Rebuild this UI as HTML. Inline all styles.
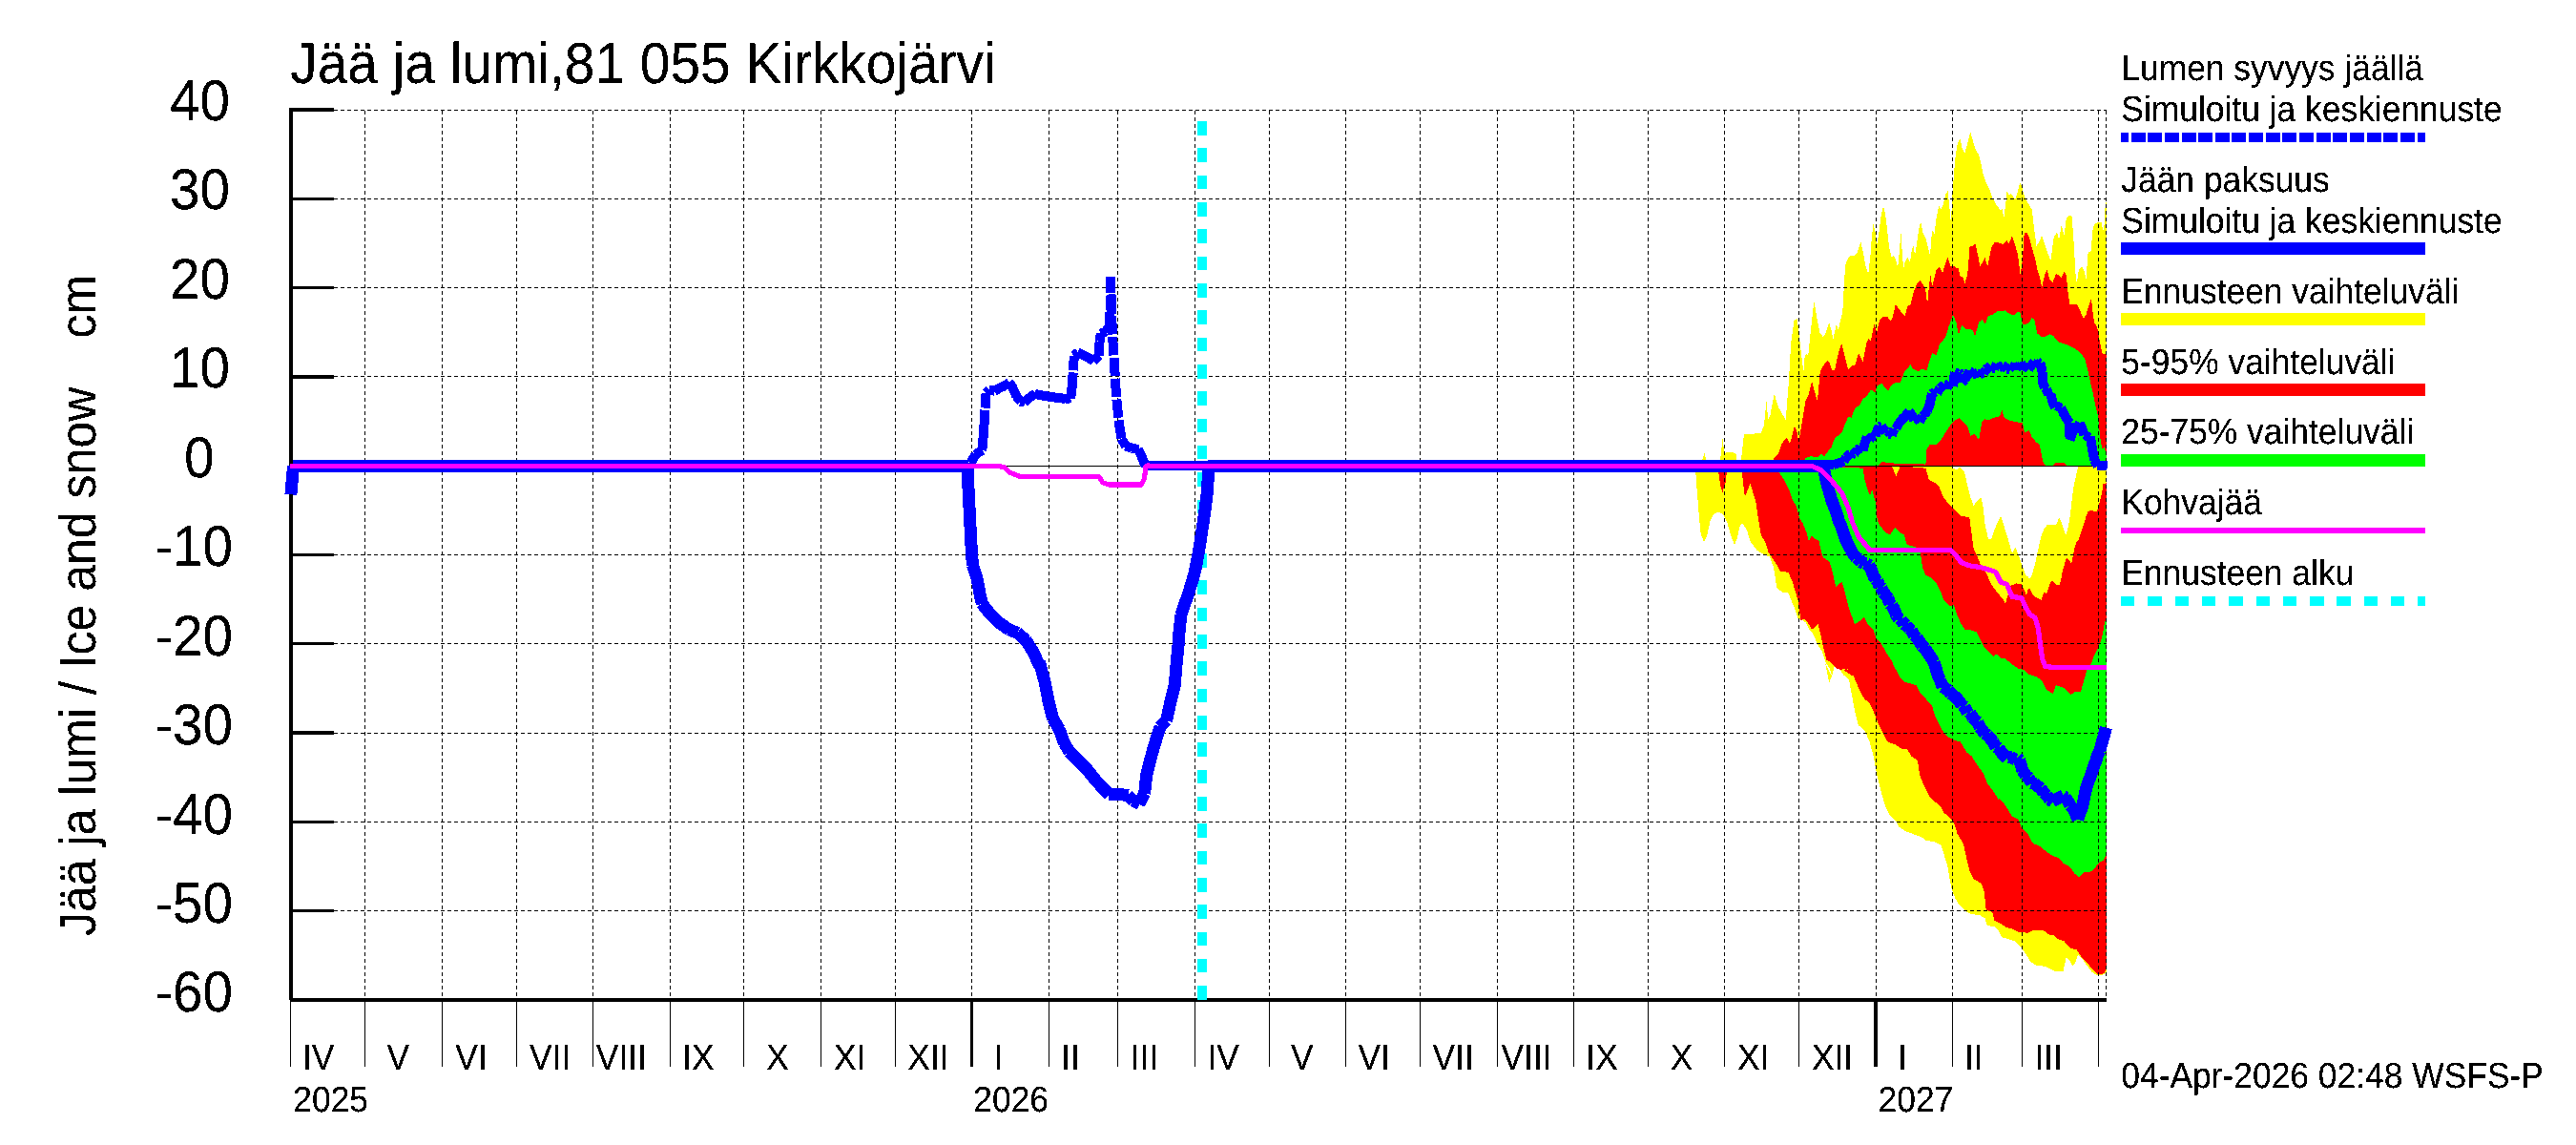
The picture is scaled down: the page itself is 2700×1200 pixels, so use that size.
<!DOCTYPE html>
<html lang="fi"><head><meta charset="utf-8"><title>Jää ja lumi, 81 055 Kirkkojärvi</title>
<style>html,body{margin:0;padding:0;background:#fff}body{width:2700px;height:1200px;overflow:hidden}</style></head>
<body>
<svg width="2700" height="1200" viewBox="0 0 2700 1200" style="display:block;font-family:'Liberation Sans',sans-serif" shape-rendering="crispEdges">
<rect width="2700" height="1200" fill="#fff"/>
<polygon points="1783.3,484.7 1786.6,474.9 1788.7,483.2 1802.9,483.2 1805.5,459.6 1807.3,474.9 1812.8,473.8 1819.3,474.9 1820.4,483.2 1824.8,483.2 1828.0,455.2 1845.5,454.1 1848.8,446.5 1851.6,420.3 1853.1,440.0 1855.3,435.6 1859.7,412.7 1864.1,426.9 1871.7,440.0 1875.0,398.5 1877.2,359.2 1880.4,336.2 1883.7,334.1 1885.9,352.6 1889.2,381.0 1891.4,391.9 1890.9,376.7 1893.1,370.2 1895.3,372.4 1898.6,339.6 1901.4,316.0 1904.0,330.9 1907.3,348.3 1910.6,352.7 1912.8,350.5 1914.9,345.1 1917.1,337.9 1919.3,345.1 1921.5,354.9 1923.7,345.1 1924.8,339.6 1926.9,346.2 1929.1,335.2 1931.3,326.5 1932.8,300.3 1934.1,278.5 1936.8,270.8 1940.0,267.6 1943.3,268.0 1946.6,265.4 1950.3,253.4 1953.1,265.4 1955.3,278.5 1958.2,287.2 1960.3,269.7 1961.9,247.9 1963.6,234.4 1965.6,243.5 1967.3,256.6 1969.5,243.5 1971.7,226.1 1973.9,216.2 1976.1,223.9 1978.3,243.5 1980.4,261.0 1982.6,269.7 1984.8,268.0 1987.0,271.9 1989.2,280.7 1990.9,263.2 1992.4,243.1 1993.5,261.0 1995.1,281.7 1996.8,274.1 1999.7,269.7 2001.8,275.2 2004.0,261.0 2005.5,258.4 2007.1,267.6 2008.8,256.6 2011.0,241.4 2013.2,232.2 2015.4,243.5 2018.6,250.1 2020.8,258.8 2023.0,267.6 2024.5,247.9 2025.9,240.3 2027.4,245.7 2029.6,228.3 2032.2,215.2 2034.4,219.5 2036.8,214.1 2039.4,203.1 2041.6,200.3 2043.3,217.3 2044.8,232.6 2047.0,195.5 2049.2,167.1 2051.4,151.8 2054.2,144.8 2056.9,156.2 2059.5,160.1 2062.3,149.7 2065.2,138.3 2067.8,147.5 2071.0,157.3 2074.3,162.8 2076.5,171.5 2078.7,182.4 2082.0,192.2 2085.2,197.7 2088.5,207.5 2092.9,215.2 2096.2,219.5 2097.0,220.4 2098.7,218.3 2100.3,229.2 2102.4,211.7 2103.5,200.8 2105.7,204.1 2107.9,203.0 2110.1,206.2 2112.3,208.4 2114.9,200.8 2117.1,191.0 2119.3,196.4 2122.1,206.2 2125.4,212.8 2129.7,219.3 2131.9,237.9 2134.5,257.6 2137.4,253.2 2140.2,246.6 2142.8,255.4 2146.1,265.2 2149.4,272.8 2152.7,248.8 2155.9,243.4 2158.1,251.0 2160.7,235.7 2163.6,246.6 2165.8,229.2 2169.0,225.2 2171.7,227.0 2173.4,251.0 2175.6,288.1 2176.7,296.9 2178.9,282.7 2181.7,279.4 2184.3,282.7 2186.5,292.5 2188.7,264.1 2191.4,264.2 2193.4,241.9 2194.7,236.0 2197.3,233.8 2199.9,233.0 2202.5,233.4 2203.8,239.3 2204.9,242.6 2205.8,232.8 2206.5,218.3 2207.5,212.4 2208.0,212.4 2208.0,488.4 1783.3,488.4" fill="#ffff00"/>
<polygon points="1777.0,488.3 2045.7,488.3 2045.7,489.6 2051.1,492.8 2054.4,489.6 2058.8,493.9 2062.1,508.1 2065.3,521.2 2068.6,530.0 2071.9,525.6 2076.2,521.2 2078.4,530.0 2080.6,549.6 2083.9,564.9 2087.2,564.9 2092.6,549.6 2097.0,540.9 2103.5,560.5 2109.0,580.2 2112.3,573.1 2118.8,590.6 2123.2,602.6 2127.6,605.9 2123.3,603.1 2126.6,606.4 2129.2,604.5 2131.8,595.3 2133.8,587.4 2135.7,578.3 2137.7,569.1 2139.7,561.2 2142.3,554.7 2145.5,550.1 2154.1,550.1 2156.0,548.8 2158.3,542.2 2160.0,545.5 2162.6,553.4 2165.2,560.6 2167.2,554.7 2169.1,545.5 2170.4,535.0 2171.7,523.2 2173.7,508.8 2176.3,497.0 2178.3,489.2 2179.0,488.3 2208.0,488.3 2208.0,1019.3 2205.1,1021.4 2198.5,1022.5 2192.0,1018.2 2186.5,1010.5 2181.0,1002.9 2177.8,1000.7 2175.6,1008.3 2172.3,1012.7 2169.0,1006.2 2165.8,1002.9 2162.5,1018.2 2153.8,1018.2 2148.3,1014.9 2142.8,1012.7 2134.1,1011.6 2128.6,1008.3 2123.2,999.6 2118.8,993.1 2112.3,986.5 2105.7,984.3 2098.1,982.1 2094.8,975.6 2090.4,971.2 2082.8,970.1 2080.6,962.5 2075.2,959.2 2066.4,958.1 2059.9,954.8 2053.3,948.3 2049.0,940.7 2045.7,931.9 2043.5,921.0 2041.3,907.9 2038.0,897.0 2034.8,886.1 2029.3,882.8 2018.4,880.6 2014.0,877.3 2005.3,874.1 1996.6,870.8 1990.0,866.4 1987.0,860.3 1980.4,853.8 1976.1,845.0 1971.7,829.7 1967.3,812.3 1964.1,794.8 1959.7,777.3 1954.2,765.3 1947.7,759.9 1944.4,746.8 1941.1,729.3 1937.9,711.8 1932.4,707.5 1926.9,699.8 1923.0,697.6 1920.4,707.5 1917.1,715.8 1914.9,703.1 1912.8,694.4 1920.8,710.0 1917.6,700.2 1913.2,693.6 1909.9,682.7 1905.5,676.2 1900.1,664.1 1895.7,658.7 1892.4,652.1 1887.0,648.9 1885.2,650.0 1882.0,640.2 1877.6,629.3 1874.3,621.6 1867.8,620.5 1862.3,616.2 1859.0,594.3 1854.7,583.4 1849.2,581.2 1841.6,576.9 1835.0,568.1 1830.7,555.0 1826.3,548.5 1823.7,550.7 1820.8,563.8 1818.0,571.4 1814.3,561.6 1809.9,546.3 1805.5,538.6 1800.1,536.5 1795.7,539.7 1792.4,546.3 1789.2,561.6 1785.9,567.7 1782.6,559.4 1780.4,535.4 1778.3,509.2 1777.2,493.9" fill="#ffff00"/>
<polygon points="1857.5,483.2 1858.6,481.4 1864.1,474.9 1867.3,465.1 1872.8,458.5 1876.1,465.1 1880.9,446.5 1883.7,453.1 1885.2,464.0 1888.1,446.5 1892.4,420.3 1895.7,413.8 1899.0,399.6 1902.3,411.6 1904.9,420.3 1907.7,389.7 1911.0,383.2 1915.4,377.7 1918.0,381.0 1920.2,387.6 1923.0,388.6 1926.3,372.3 1930.2,359.2 1933.9,374.5 1937.2,387.6 1941.6,383.2 1944.2,383.2 1948.1,370.1 1952.5,378.8 1956.4,359.2 1958.6,354.8 1960.8,357.0 1964.5,339.5 1967.3,348.3 1970.0,335.2 1973.9,332.0 1978.3,332.0 1981.5,336.3 1983.7,333.1 1986.6,319.5 1989.2,322.1 1992.4,326.5 1996.8,330.9 1999.7,320.0 2002.3,320.0 2004.9,309.0 2008.8,298.1 2012.8,294.2 2015.4,298.1 2018.0,302.5 2020.2,318.9 2021.9,300.3 2023.4,288.3 2025.2,300.3 2026.7,293.8 2029.6,282.8 2032.8,280.2 2036.1,286.1 2039.0,276.3 2041.6,269.7 2044.2,278.5 2047.0,278.5 2050.3,280.7 2052.5,280.7 2054.7,289.4 2057.3,290.5 2059.5,297.0 2062.3,287.2 2064.5,258.8 2067.8,257.7 2070.4,255.5 2073.2,267.6 2075.4,279.6 2078.3,274.1 2080.4,269.7 2083.1,279.6 2085.2,269.7 2087.4,258.8 2090.7,254.0 2094.0,254.0 2098.3,255.5 2099.2,256.5 2103.5,252.1 2105.7,255.4 2109.0,247.3 2112.3,257.6 2114.9,266.3 2117.7,288.1 2119.9,272.8 2121.7,244.5 2124.3,243.4 2127.1,248.8 2129.7,259.7 2133.0,270.7 2135.2,281.6 2138.5,292.5 2140.2,301.2 2142.8,289.2 2145.5,282.7 2148.3,292.5 2151.6,295.8 2154.8,287.0 2158.1,288.1 2160.3,291.4 2163.6,284.8 2165.8,288.1 2167.9,310.0 2169.5,318.7 2176.7,318.7 2180.0,325.2 2183.9,334.0 2186.5,329.6 2189.1,320.9 2192.0,313.2 2194.1,331.8 2195.3,339.3 2197.3,341.3 2199.3,347.9 2200.6,357.0 2202.5,366.2 2203.8,371.4 2208.0,371.2 2208.0,488.4 1857.5,488.4" fill="#ff0000"/>
<polygon points="1801.2,488.4 1809.9,488.4 1809.9,495.0 1808.8,504.8 1805.5,515.7 1803.4,509.2 1801.2,495.0" fill="#ff0000"/>
<polygon points="1825.9,488.4 1983.0,488.3 1987.4,499.3 1991.8,488.3 2018.4,490.7 2021.7,502.7 2028.2,505.9 2032.6,510.3 2036.9,521.2 2041.3,526.7 2046.8,532.1 2052.2,537.6 2055.5,540.9 2064.2,542.0 2066.4,558.3 2068.6,574.7 2071.9,581.8 2076.2,592.8 2081.7,600.4 2087.2,612.4 2092.6,620.0 2099.2,627.7 2101.8,633.1 2104.6,623.3 2105.7,614.6 2113.4,611.3 2118.8,612.4 2120.0,614.9 2122.0,618.9 2123.9,624.1 2125.2,618.9 2127.2,616.3 2129.2,620.2 2131.8,624.8 2135.7,626.7 2139.7,628.7 2141.0,624.1 2142.9,620.2 2144.9,622.1 2146.2,618.9 2148.2,612.3 2150.8,608.4 2153.4,611.0 2156.7,613.6 2158.6,613.0 2160.6,605.8 2161.9,597.9 2163.9,591.4 2165.9,584.2 2169.1,587.4 2171.1,591.4 2173.1,581.5 2174.4,574.3 2176.3,568.4 2179.0,565.2 2180.9,558.6 2182.9,553.4 2184.8,546.8 2186.8,540.3 2188.8,535.7 2191.4,535.0 2195.3,535.7 2197.3,537.0 2199.3,532.4 2201.2,524.5 2203.2,516.7 2204.5,507.5 2208.0,506.2 2208.0,1014.9 2205.1,1020.3 2199.6,1021.4 2195.2,1018.2 2188.7,1010.5 2182.1,1004.0 2176.7,995.2 2170.1,994.1 2163.6,986.5 2157.0,984.3 2152.7,980.0 2148.3,980.0 2142.8,975.6 2131.9,974.5 2125.4,977.8 2115.5,976.7 2109.0,973.4 2103.5,972.3 2097.0,967.9 2090.4,964.7 2088.3,955.9 2081.7,953.8 2079.8,934.5 2076.5,925.8 2068.9,921.4 2064.5,912.7 2061.2,899.6 2057.9,884.3 2051.4,873.4 2048.1,862.5 2043.8,857.0 2037.2,851.6 2033.9,845.0 2028.5,840.7 2021.9,834.1 2016.5,823.2 2012.1,812.3 2009.9,797.0 2003.4,792.6 1999.0,785.0 1993.5,785.0 1987.0,780.6 1978.3,777.3 1973.9,768.6 1968.4,757.7 1964.1,746.8 1959.7,736.9 1954.2,732.6 1948.8,722.8 1943.3,709.7 1937.9,702.0 1930.2,700.9 1943.8,710.0 1937.2,701.3 1930.7,702.4 1924.1,700.2 1919.7,694.7 1914.3,691.4 1911.0,678.3 1908.8,667.4 1905.5,654.3 1899.0,659.8 1894.6,652.1 1891.4,648.9 1887.4,650.0 1885.2,631.4 1882.0,620.5 1878.7,609.6 1874.3,599.8 1865.6,598.7 1862.3,592.1 1857.9,585.6 1853.6,579.0 1850.3,568.1 1845.9,561.6 1842.7,541.9 1840.5,526.6 1837.2,515.7 1834.6,506.6 1831.7,513.5 1828.9,521.2 1827.4,509.2 1825.9,495.0" fill="#ff0000"/>
<polygon points="1891.4,483.2 1892.4,480.3 1897.9,478.2 1905.5,479.3 1908.8,476.0 1912.1,478.2 1919.7,468.3 1923.0,459.6 1930.7,453.1 1933.9,444.3 1937.2,436.7 1940.5,437.8 1944.2,427.9 1949.2,424.7 1952.5,418.1 1956.9,414.8 1961.2,408.3 1965.2,411.6 1967.8,403.9 1972.1,401.7 1976.5,407.2 1979.1,409.4 1983.1,402.8 1987.4,400.7 1991.8,400.7 1996.2,389.7 2000.1,385.4 2002.0,381.5 2005.3,386.9 2010.7,389.1 2014.0,386.9 2019.5,388.0 2022.8,377.1 2025.2,370.2 2029.6,372.4 2032.8,361.4 2036.1,357.1 2039.4,352.7 2042.7,341.8 2047.0,329.8 2050.3,337.4 2052.9,350.5 2056.4,340.7 2060.1,345.1 2064.5,345.1 2067.8,346.2 2070.0,352.7 2074.3,337.4 2077.6,335.2 2080.9,339.6 2084.1,330.9 2088.5,329.8 2092.9,326.5 2099.2,326.3 2101.4,325.2 2105.7,328.5 2110.1,330.7 2114.5,327.4 2117.1,326.3 2119.9,339.4 2123.2,340.1 2126.5,338.3 2129.7,332.9 2132.4,335.1 2135.2,349.3 2140.7,353.6 2143.9,352.5 2148.3,350.3 2152.7,352.5 2157.0,358.0 2162.5,360.2 2166.9,361.3 2173.4,364.5 2180.0,368.9 2185.5,376.7 2188.1,387.2 2190.1,396.3 2193.4,410.7 2196.0,423.8 2198.6,434.3 2199.9,444.8 2201.2,457.9 2202.5,465.8 2203.8,471.0 2205.8,469.0 2208.0,477.6 2208.0,488.4 1891.4,488.4" fill="#00ff00"/>
<polygon points="1968.0,488.3 1972.0,484.0 1985.0,485.5 2000.0,486.0 2017.0,486.5 2018.4,486.7 2019.5,471.0 2022.8,465.5 2028.2,466.6 2033.7,462.3 2039.1,453.5 2044.6,444.8 2049.0,440.4 2053.3,438.3 2056.6,441.5 2062.1,447.0 2065.3,456.8 2069.7,454.6 2074.1,461.2 2077.3,442.6 2080.6,439.3 2083.9,440.4 2088.3,438.3 2092.6,437.2 2095.9,436.1 2098.5,429.5 2100.3,437.2 2105.7,440.4 2110.1,441.5 2115.5,442.6 2119.9,442.6 2122.1,453.5 2126.5,451.4 2129.7,457.9 2134.1,463.4 2137.4,465.5 2139.6,475.4 2141.7,485.2 2143.9,487.6 2151.6,487.6 2154.8,485.0 2162.5,484.5 2165.8,487.6 2170.0,488.3 2170.0,488.4 1968.0,488.4" fill="#ff0000"/>
<polygon points="1864.0,488.3 1952.5,490.6 1954.7,503.7 1957.9,514.6 1960.1,519.0 1962.3,513.5 1965.6,525.5 1967.8,545.2 1971.0,551.7 1976.5,558.3 1980.9,560.4 1986.3,552.8 1991.8,558.3 1995.5,560.0 1998.7,570.9 2007.5,573.1 2012.9,579.7 2015.1,594.9 2018.4,602.6 2024.9,605.9 2030.4,612.4 2034.8,621.1 2036.9,628.8 2043.5,635.3 2047.9,634.2 2051.1,644.1 2055.5,653.9 2059.9,660.4 2065.3,660.4 2071.9,662.6 2075.2,669.2 2079.5,677.9 2086.1,684.5 2089.3,687.7 2092.6,685.5 2097.0,689.9 2101.4,689.9 2107.9,695.4 2115.5,700.8 2121.0,701.9 2125.4,706.3 2135.2,709.6 2140.7,713.9 2145.0,722.7 2151.6,727.0 2154.8,718.3 2162.5,720.5 2170.1,728.1 2175.6,724.8 2181.0,724.8 2184.3,712.8 2187.6,701.9 2192.0,695.4 2195.2,686.6 2199.6,677.9 2202.9,669.2 2206.2,651.7 2208.0,647.3 2208.0,894.8 2205.1,901.4 2199.6,904.6 2196.3,909.0 2192.0,913.4 2184.3,914.5 2178.9,919.9 2174.5,915.5 2169.0,907.9 2162.5,904.6 2158.1,899.2 2151.6,897.0 2145.0,892.6 2138.5,887.2 2130.8,883.9 2125.4,874.1 2118.8,867.5 2115.5,858.8 2109.0,855.5 2101.4,843.5 2094.8,835.9 2095.1,838.5 2089.6,829.7 2083.1,821.0 2078.7,810.1 2072.1,801.4 2066.7,792.6 2061.2,788.3 2054.7,777.3 2049.2,776.2 2042.7,773.0 2037.2,767.5 2032.8,759.9 2028.5,751.1 2025.2,740.2 2019.7,733.7 2013.2,727.1 2008.8,718.4 2002.3,716.2 1996.8,715.1 1991.4,709.7 1986.3,700.2 1982.0,691.4 1977.6,684.9 1972.1,675.1 1966.7,669.6 1963.4,659.8 1957.9,654.3 1953.6,646.7 1949.2,651.0 1943.8,654.3 1940.5,644.5 1937.2,634.7 1933.9,621.6 1930.7,609.6 1924.1,615.0 1920.8,599.7 1917.6,588.8 1911.0,584.5 1908.8,577.9 1906.6,567.0 1902.3,564.8 1899.0,561.5 1895.7,567.0 1893.5,558.3 1889.2,547.3 1886.3,544.1 1883.1,531.0 1878.7,523.4 1875.4,513.5 1870.0,502.6 1864.5,495.0" fill="#00ff00"/>
<g stroke="#000" stroke-width="1" stroke-dasharray="4.4 2.6" fill="none">
<line x1="350" y1="115.5" x2="2207.5" y2="115.5"/>
<line x1="350" y1="208.5" x2="2207.5" y2="208.5"/>
<line x1="350" y1="301.5" x2="2207.5" y2="301.5"/>
<line x1="350" y1="394.5" x2="2207.5" y2="394.5"/>
<line x1="350" y1="488.5" x2="2207.5" y2="488.5"/>
<line x1="350" y1="581.5" x2="2207.5" y2="581.5"/>
<line x1="350" y1="674.5" x2="2207.5" y2="674.5"/>
<line x1="350" y1="768.5" x2="2207.5" y2="768.5"/>
<line x1="350" y1="861.5" x2="2207.5" y2="861.5"/>
<line x1="350" y1="954.5" x2="2207.5" y2="954.5"/>
<line x1="382.5" y1="116.0" x2="382.5" y2="1047.5" stroke-dasharray="4 3"/>
<line x1="463.5" y1="116.0" x2="463.5" y2="1047.5" stroke-dasharray="4 3"/>
<line x1="541.5" y1="116.0" x2="541.5" y2="1047.5" stroke-dasharray="4 3"/>
<line x1="621.5" y1="116.0" x2="621.5" y2="1047.5" stroke-dasharray="4 3"/>
<line x1="702.5" y1="116.0" x2="702.5" y2="1047.5" stroke-dasharray="4 3"/>
<line x1="779.5" y1="116.0" x2="779.5" y2="1047.5" stroke-dasharray="4 3"/>
<line x1="860.5" y1="116.0" x2="860.5" y2="1047.5" stroke-dasharray="4 3"/>
<line x1="938.5" y1="116.0" x2="938.5" y2="1047.5" stroke-dasharray="4 3"/>
<line x1="1018.5" y1="116.0" x2="1018.5" y2="1047.5" stroke-dasharray="4 3"/>
<line x1="1099.5" y1="116.0" x2="1099.5" y2="1047.5" stroke-dasharray="4 3"/>
<line x1="1171.5" y1="116.0" x2="1171.5" y2="1047.5" stroke-dasharray="4 3"/>
<line x1="1252.5" y1="116.0" x2="1252.5" y2="1047.5" stroke-dasharray="4 3"/>
<line x1="1330.5" y1="116.0" x2="1330.5" y2="1047.5" stroke-dasharray="4 3"/>
<line x1="1410.5" y1="116.0" x2="1410.5" y2="1047.5" stroke-dasharray="4 3"/>
<line x1="1488.5" y1="116.0" x2="1488.5" y2="1047.5" stroke-dasharray="4 3"/>
<line x1="1569.5" y1="116.0" x2="1569.5" y2="1047.5" stroke-dasharray="4 3"/>
<line x1="1649.5" y1="116.0" x2="1649.5" y2="1047.5" stroke-dasharray="4 3"/>
<line x1="1727.5" y1="116.0" x2="1727.5" y2="1047.5" stroke-dasharray="4 3"/>
<line x1="1807.5" y1="116.0" x2="1807.5" y2="1047.5" stroke-dasharray="4 3"/>
<line x1="1885.5" y1="116.0" x2="1885.5" y2="1047.5" stroke-dasharray="4 3"/>
<line x1="1966.5" y1="116.0" x2="1966.5" y2="1047.5" stroke-dasharray="4 3"/>
<line x1="2046.5" y1="116.0" x2="2046.5" y2="1047.5" stroke-dasharray="4 3"/>
<line x1="2119.5" y1="116.0" x2="2119.5" y2="1047.5" stroke-dasharray="4 3"/>
<line x1="2199.5" y1="116.0" x2="2199.5" y2="1047.5" stroke-dasharray="4 3"/>
<line x1="2207.5" y1="116.0" x2="2207.5" y2="1047.5" stroke-dasharray="4 3"/>
</g>
<line x1="305" y1="488.5" x2="2207.5" y2="488.5" stroke="#000" stroke-width="1.3"/>
<rect x="303" y="113" width="4" height="935" fill="#000"/>
<rect x="304" y="1046" width="1904" height="4" fill="#000"/>
<rect x="305" y="113" width="45" height="4" fill="#000"/>
<rect x="305" y="207" width="45" height="3" fill="#000"/>
<rect x="305" y="300" width="45" height="3" fill="#000"/>
<rect x="305" y="393" width="45" height="4" fill="#000"/>
<rect x="305" y="487" width="45" height="3" fill="#000"/>
<rect x="305" y="580" width="45" height="3" fill="#000"/>
<rect x="305" y="673" width="45" height="3" fill="#000"/>
<rect x="305" y="766" width="45" height="4" fill="#000"/>
<rect x="305" y="860" width="45" height="3" fill="#000"/>
<rect x="305" y="953" width="45" height="3" fill="#000"/>
<rect x="304" y="1048" width="1" height="70" fill="#000"/>
<rect x="382" y="1048" width="1" height="70" fill="#000"/>
<rect x="463" y="1048" width="1" height="70" fill="#000"/>
<rect x="541" y="1048" width="1" height="70" fill="#000"/>
<rect x="621" y="1048" width="1" height="70" fill="#000"/>
<rect x="702" y="1048" width="1" height="70" fill="#000"/>
<rect x="779" y="1048" width="1" height="70" fill="#000"/>
<rect x="860" y="1048" width="1" height="70" fill="#000"/>
<rect x="938" y="1048" width="1" height="70" fill="#000"/>
<rect x="1017" y="1048" width="3" height="70" fill="#000"/>
<rect x="1099" y="1048" width="1" height="70" fill="#000"/>
<rect x="1171" y="1048" width="1" height="70" fill="#000"/>
<rect x="1252" y="1048" width="1" height="70" fill="#000"/>
<rect x="1330" y="1048" width="1" height="70" fill="#000"/>
<rect x="1410" y="1048" width="1" height="70" fill="#000"/>
<rect x="1488" y="1048" width="1" height="70" fill="#000"/>
<rect x="1569" y="1048" width="1" height="70" fill="#000"/>
<rect x="1649" y="1048" width="1" height="70" fill="#000"/>
<rect x="1727" y="1048" width="1" height="70" fill="#000"/>
<rect x="1807" y="1048" width="1" height="70" fill="#000"/>
<rect x="1885" y="1048" width="1" height="70" fill="#000"/>
<rect x="1964" y="1048" width="4" height="70" fill="#000"/>
<rect x="2046" y="1048" width="1" height="70" fill="#000"/>
<rect x="2119" y="1048" width="1" height="70" fill="#000"/>
<rect x="2199" y="1048" width="1" height="70" fill="#000"/>
<line x1="1260" y1="127.1" x2="1260" y2="1048" stroke="#00ffff" stroke-width="10" stroke-dasharray="14.6 13.716"/>
<path d="M1017.5 488.7L1017.3 484.7M1017.1 485.4L1020.2 480.4M1019.8 481.0L1022.9 476.0M1022.5 476.5L1025.2 474.7M1024.6 475.1L1027.4 473.2M1026.8 473.6L1029.6 471.8M1029.3 472.3L1030.4 459.6M1030.4 460.3L1031.5 445.0M1031.5 445.0L1032.4 429.7M1032.6 427.6L1033.6 412.2M1033.4 412.2L1037.2 408.4M1036.6 408.6L1040.0 409.3M1039.3 409.1L1042.7 409.8M1042.1 409.9L1045.4 407.9M1044.8 408.3L1048.2 406.3M1047.5 406.6L1050.9 405.2M1050.3 405.5L1053.6 404.1M1053.0 404.5L1055.8 402.4M1055.2 402.9L1058.0 400.8M1057.5 400.7L1061.2 405.7M1060.8 405.1L1063.3 410.6M1063.0 410.0L1065.5 415.5M1065.1 414.9L1067.7 418.2M1067.3 417.7L1069.9 420.9M1069.4 420.6L1072.2 421.3M1071.5 421.1L1074.4 421.8M1073.8 422.0L1077.0 418.8M1076.5 419.3L1079.8 416.0M1079.2 416.5L1082.5 414.5M1081.9 414.8L1085.3 412.8M1084.6 412.9L1087.9 413.6M1087.2 413.5L1090.4 414.1M1089.7 414.0L1093.0 414.6M1092.3 414.5L1095.7 415.0M1095.0 414.9L1098.4 415.5M1097.7 415.4L1101.2 415.9M1100.5 415.8L1103.9 416.3M1103.2 416.2L1106.5 416.6M1105.8 416.6L1109.1 416.9M1108.4 416.9L1111.7 417.2M1111.0 417.2L1114.4 417.6M1113.7 417.5L1117.0 417.9M1116.3 417.8L1119.7 417.6M1119.0 417.6L1122.4 417.4M1122.1 417.7L1123.7 405.0M1123.6 405.7L1124.7 390.4M1124.9 388.3L1125.8 372.9M1125.5 372.8L1128.0 370.8M1127.5 371.2L1130.0 369.1M1129.4 369.2L1133.0 371.0M1132.3 370.6L1135.9 372.4M1135.2 372.1L1138.8 373.9M1138.2 373.5L1141.3 375.3M1140.7 375.0L1143.9 376.8M1143.3 376.4L1146.4 378.3M1145.9 378.3L1149.1 375.1M1148.6 375.6L1151.8 372.4M1151.5 373.0L1152.6 357.7M1152.6 357.7L1153.8 349.3M1153.4 349.8L1156.8 348.5M1156.2 348.7L1159.5 347.4M1159.0 347.8L1162.7 341.8M1162.5 342.4L1163.4 327.1M1163.6 324.9L1163.9 309.6M1163.9 306.9L1164.0 302.4M1164.0 303.1L1164.0 290.4M1164.0 290.4L1164.4 305.7M1164.5 308.4L1164.7 314.0M1164.7 313.3L1165.1 328.7M1165.2 331.3L1165.3 335.9M1165.3 335.2L1166.1 350.5M1166.2 353.1L1166.4 357.7M1166.4 357.0L1167.5 372.3M1167.7 374.9L1168.0 379.5M1167.9 378.8L1168.7 394.2M1168.8 396.8L1169.1 401.4M1169.0 400.7L1170.2 416.0M1170.4 418.6L1170.8 423.2M1170.8 422.5L1172.3 437.8M1172.5 440.4L1173.0 445.0M1172.9 444.3L1175.5 459.5M1175.4 459.7L1177.9 464.1M1177.6 463.5L1180.1 467.9M1179.6 467.5L1182.5 468.4M1181.8 468.2L1184.7 469.2M1184.0 468.9L1186.8 469.9M1186.2 469.7L1189.0 470.2M1188.3 470.1L1191.2 470.6M1190.5 470.5L1193.4 470.9M1192.9 470.6L1196.5 477.7M1196.2 477.1L1199.7 486.5M1199.5 485.8L1200.6 488.7M1200.2 488.4L1203.4 488.4M1202.7 488.4L1206.0 488.4M1205.3 488.4L1208.6 488.4M1207.9 488.4L1211.2 488.4M1210.5 488.4L1213.8 488.4M1213.1 488.4L1216.4 488.4M1215.7 488.4L1219.0 488.4M1218.3 488.4L1221.6 488.4M1220.9 488.4L1224.2 488.4M1223.5 488.4L1226.8 488.4M1226.1 488.4L1229.4 488.4M1228.7 488.4L1232.0 488.4M1231.3 488.4L1234.6 488.4M1233.9 488.4L1237.2 488.4M1236.5 488.4L1239.8 488.4M1239.1 488.4L1242.4 488.4M1241.7 488.4L1245.0 488.4M1244.3 488.4L1247.6 488.4M1246.9 488.4L1250.2 488.4M1249.5 488.4L1252.8 488.4M1252.1 488.4L1255.3 488.4M1254.7 488.4L1257.9 488.4M1257.2 488.4L1260.5 488.4M1259.8 488.4L1263.1 488.4M1262.4 488.4L1265.7 488.4M1265.0 488.4L1268.3 488.4M1267.6 488.4L1270.9 488.4M1270.2 488.4L1273.5 488.4M1272.8 488.4L1276.1 488.4M1275.4 488.4L1278.7 488.4M1278.0 488.4L1281.3 488.4M1280.6 488.4L1283.9 488.4M1283.2 488.4L1286.5 488.4M1285.8 488.4L1289.1 488.4M1288.4 488.4L1291.7 488.4M1291.0 488.4L1294.3 488.4M1293.6 488.4L1296.9 488.4M1296.2 488.4L1299.5 488.4M1298.8 488.4L1302.1 488.4M1301.4 488.4L1304.7 488.4M1304.0 488.4L1307.3 488.4M1306.6 488.4L1309.8 488.4M1309.2 488.4L1312.4 488.4M1311.7 488.4L1315.0 488.4M1314.3 488.4L1317.6 488.4M1316.9 488.4L1320.2 488.4M1319.5 488.4L1322.8 488.4M1322.1 488.4L1325.4 488.4M1324.7 488.4L1328.0 488.4M1327.3 488.4L1330.6 488.4M1329.9 488.4L1333.2 488.4M1332.5 488.4L1335.8 488.4M1335.1 488.4L1338.4 488.4M1337.7 488.4L1341.0 488.4M1340.3 488.4L1343.6 488.4M1342.9 488.4L1346.2 488.4M1345.5 488.4L1348.8 488.4M1348.1 488.4L1351.4 488.4M1350.7 488.4L1354.0 488.4M1353.3 488.4L1356.6 488.4M1355.9 488.4L1359.2 488.4M1358.5 488.4L1361.8 488.4M1361.1 488.4L1364.3 488.4M1363.7 488.4L1366.9 488.4M1366.2 488.4L1369.5 488.4M1368.8 488.4L1372.1 488.4M1371.4 488.4L1374.7 488.4M1374.0 488.4L1377.3 488.4M1376.6 488.4L1379.9 488.4M1379.2 488.4L1382.5 488.4M1381.8 488.4L1385.1 488.4M1384.4 488.4L1387.7 488.4M1387.0 488.4L1390.3 488.4M1389.6 488.4L1392.9 488.4M1392.2 488.4L1395.5 488.4M1394.8 488.4L1398.1 488.4M1397.4 488.4L1400.7 488.4M1400.0 488.4L1403.3 488.4M1402.6 488.4L1405.9 488.4M1405.2 488.4L1408.5 488.4M1407.8 488.4L1411.1 488.4M1410.4 488.4L1413.7 488.4M1413.0 488.4L1416.3 488.4M1415.6 488.4L1418.8 488.4M1418.2 488.4L1421.4 488.4M1420.7 488.4L1424.0 488.4M1423.3 488.4L1426.6 488.4M1425.9 488.4L1429.2 488.4M1428.5 488.4L1431.8 488.4M1431.1 488.4L1434.4 488.4M1433.7 488.4L1437.0 488.4M1436.3 488.4L1439.6 488.4M1438.9 488.4L1442.2 488.4M1441.5 488.4L1444.8 488.4M1444.1 488.4L1447.4 488.4M1446.7 488.4L1450.0 488.4M1449.3 488.4L1452.6 488.4M1451.9 488.4L1455.2 488.4M1454.5 488.4L1457.8 488.4M1457.1 488.4L1460.4 488.4M1459.7 488.4L1463.0 488.4M1462.3 488.4L1465.6 488.4M1464.9 488.4L1468.2 488.4M1467.5 488.4L1470.8 488.4M1470.1 488.4L1473.3 488.4M1472.7 488.4L1475.9 488.4M1475.2 488.4L1478.5 488.4M1477.8 488.4L1481.1 488.4M1480.4 488.4L1483.7 488.4M1483.0 488.4L1486.3 488.4M1485.6 488.4L1488.9 488.4M1488.2 488.4L1491.5 488.4M1490.8 488.4L1494.1 488.4M1493.4 488.4L1496.7 488.4M1496.0 488.4L1499.3 488.4M1498.6 488.4L1501.9 488.4M1501.2 488.4L1504.5 488.4M1503.8 488.4L1507.1 488.4M1506.4 488.4L1509.7 488.4M1509.0 488.4L1512.3 488.4M1511.6 488.4L1514.9 488.4M1514.2 488.4L1517.5 488.4M1516.8 488.4L1520.1 488.4M1519.4 488.4L1522.7 488.4M1522.0 488.4L1525.3 488.4M1524.6 488.4L1527.8 488.4M1527.2 488.4L1530.4 488.4M1529.7 488.4L1533.0 488.4M1532.3 488.4L1535.6 488.4M1534.9 488.4L1538.2 488.4M1537.5 488.4L1540.8 488.4M1540.1 488.4L1543.4 488.4M1542.7 488.4L1546.0 488.4M1545.3 488.4L1548.6 488.4M1547.9 488.4L1551.2 488.4M1550.5 488.4L1553.8 488.4M1553.1 488.4L1556.4 488.4M1555.7 488.4L1559.0 488.4M1558.3 488.4L1561.6 488.4M1560.9 488.4L1564.2 488.4M1563.5 488.4L1566.8 488.4M1566.1 488.4L1569.4 488.4M1568.7 488.4L1572.0 488.4M1571.3 488.4L1574.6 488.4M1573.9 488.4L1577.2 488.4M1576.5 488.4L1579.8 488.4M1579.1 488.4L1582.3 488.4M1581.7 488.4L1584.9 488.4M1584.2 488.4L1587.5 488.4M1586.8 488.4L1590.1 488.4M1589.4 488.4L1592.7 488.4M1592.0 488.4L1595.3 488.4M1594.6 488.4L1597.9 488.4M1597.2 488.4L1600.5 488.4M1599.8 488.4L1603.1 488.4M1602.4 488.4L1605.7 488.4M1605.0 488.4L1608.3 488.4M1607.6 488.4L1610.9 488.4M1610.2 488.4L1613.5 488.4M1612.8 488.4L1616.1 488.4M1615.4 488.4L1618.7 488.4M1618.0 488.4L1621.3 488.4M1620.6 488.4L1623.9 488.4M1623.2 488.4L1626.5 488.4M1625.8 488.4L1629.1 488.4M1628.4 488.4L1631.7 488.4M1631.0 488.4L1634.3 488.4M1633.6 488.4L1636.8 488.4M1636.2 488.4L1639.4 488.4M1638.7 488.4L1642.0 488.4M1641.3 488.4L1644.6 488.4M1643.9 488.4L1647.2 488.4M1646.5 488.4L1649.8 488.4M1649.1 488.4L1652.4 488.4M1651.7 488.4L1655.0 488.4M1654.3 488.4L1657.6 488.4M1656.9 488.4L1660.2 488.4M1659.5 488.4L1662.8 488.4M1662.1 488.4L1665.4 488.4M1664.7 488.4L1668.0 488.4M1667.3 488.4L1670.6 488.4M1669.9 488.4L1673.2 488.4M1672.5 488.4L1675.8 488.4M1675.1 488.4L1678.4 488.4M1677.7 488.4L1681.0 488.4M1680.3 488.4L1683.6 488.4M1682.9 488.4L1686.2 488.4M1685.5 488.4L1688.8 488.4M1688.1 488.4L1691.3 488.4M1690.7 488.4L1693.9 488.4M1693.2 488.4L1696.5 488.4M1695.8 488.4L1699.1 488.4M1698.4 488.4L1701.7 488.4M1701.0 488.4L1704.3 488.4M1703.6 488.4L1706.9 488.4M1706.2 488.4L1709.5 488.4M1708.8 488.4L1712.1 488.4M1711.4 488.4L1714.7 488.4M1714.0 488.4L1717.3 488.4M1716.6 488.4L1719.9 488.4M1719.2 488.4L1722.5 488.4M1721.8 488.4L1725.1 488.4M1724.4 488.4L1727.7 488.4M1727.0 488.4L1730.3 488.4M1729.6 488.4L1732.9 488.4M1732.2 488.4L1735.5 488.4M1734.8 488.4L1738.1 488.4M1737.4 488.4L1740.7 488.4M1740.0 488.4L1743.3 488.4M1742.6 488.4L1745.8 488.4M1745.2 488.4L1748.4 488.4M1747.7 488.4L1751.0 488.4M1750.3 488.4L1753.6 488.4M1752.9 488.4L1756.2 488.4M1755.5 488.4L1758.8 488.4M1758.1 488.4L1761.4 488.4M1760.7 488.4L1764.0 488.4M1763.3 488.4L1766.6 488.4M1765.9 488.4L1769.2 488.4M1768.5 488.4L1771.8 488.4M1771.1 488.4L1774.4 488.4M1773.7 488.4L1777.0 488.4M1776.3 488.4L1779.6 488.4M1778.9 488.4L1782.2 488.4M1781.5 488.4L1784.8 488.4M1784.1 488.4L1787.4 488.4M1786.7 488.4L1790.0 488.4M1789.3 488.4L1792.6 488.4M1791.9 488.4L1795.2 488.4M1794.5 488.4L1797.8 488.4M1797.1 488.4L1800.3 488.4M1799.7 488.4L1802.9 488.4M1802.2 488.4L1805.5 488.4M1804.8 488.4L1808.1 488.4M1807.4 488.4L1810.7 488.4M1810.0 488.4L1813.3 488.4M1812.6 488.4L1815.9 488.4M1815.2 488.4L1818.5 488.4M1817.8 488.4L1821.1 488.4M1820.4 488.4L1823.7 488.4M1823.0 488.4L1826.3 488.4M1825.6 488.4L1828.9 488.4M1828.2 488.4L1831.5 488.4M1830.8 488.4L1834.1 488.4M1833.4 488.4L1836.7 488.4M1836.0 488.4L1839.3 488.4M1838.6 488.4L1841.9 488.4M1841.2 488.4L1844.5 488.4M1843.8 488.4L1847.1 488.4M1846.4 488.4L1849.7 488.4M1849.0 488.4L1852.3 488.4M1851.6 488.4L1854.8 488.4M1854.2 488.4L1857.4 488.4M1856.7 488.4L1860.0 488.4M1859.3 488.4L1862.6 488.4M1861.9 488.4L1865.2 488.4M1864.5 488.4L1867.8 488.4M1867.1 488.4L1870.4 488.4M1869.7 488.4L1873.0 488.4M1872.3 488.4L1875.6 488.4M1874.9 488.4L1878.2 488.4M1877.5 488.4L1880.8 488.4M1880.1 488.4L1883.4 488.4M1882.7 488.4L1886.0 488.4M1885.3 488.4L1888.6 488.4M1887.9 488.4L1891.2 488.4M1890.5 488.4L1893.8 488.4M1893.1 488.4L1896.4 488.4M1895.7 488.4L1899.0 488.4M1898.3 488.4L1901.6 488.4M1900.9 488.4L1904.2 488.4M1903.5 488.4L1906.8 488.4M1906.1 488.4L1909.3 488.4" fill="none" stroke="#0000ff" stroke-width="10"/>
<path d="M1910.7 486.9L1914.1 486.9M1913.4 486.9L1916.8 486.9M1916.1 486.9L1919.5 486.9M1918.8 486.9L1922.3 486.9M1921.6 487.0L1925.0 486.0M1924.3 486.2L1927.7 485.2M1927.0 485.4L1930.4 484.3M1929.8 484.5L1933.2 483.5M1932.7 483.9L1935.2 478.9M1934.8 479.4L1937.5 477.0M1936.9 477.5L1939.7 475.6M1939.0 475.7L1941.9 476.1M1941.2 476.2L1944.1 475.3M1943.5 475.7L1946.9 471.2M1946.4 471.7L1949.9 469.7M1949.3 469.6L1952.8 472.2M1952.4 472.3L1954.8 463.7M1954.5 464.3L1957.0 458.1M1956.6 458.2L1960.1 460.5M1959.6 460.6L1962.9 456.3M1962.3 456.5L1965.9 456.7M1965.5 457.0L1967.9 450.4M1967.6 451.1L1970.1 446.8M1969.6 447.2L1972.5 446.3M1972.0 446.1L1974.5 450.3M1974.1 449.7L1976.7 452.8M1976.2 452.5L1979.0 452.4M1978.5 452.2L1981.1 455.1M1980.6 454.7L1983.4 456.2M1982.9 456.3L1985.4 449.4M1984.9 449.8L1987.8 449.0M1987.3 449.4L1989.8 444.4M1989.4 445.0L1992.7 440.6M1992.3 441.2L1995.6 436.9M1995.1 437.0L1998.7 438.4M1998.7 438.3L1995.1 438.1M1995.2 438.4L1998.4 434.6M1998.0 435.1L2001.1 430.9M2000.7 430.9L2003.9 435.1M2003.5 434.5L2006.5 440.4M2006.1 440.2L2009.4 438.7M2008.9 438.6L2012.1 442.0M2011.7 442.1L2014.7 436.1M2014.3 436.6L2017.6 434.5M2017.1 435.0L2020.2 430.4M2019.9 431.0L2022.9 423.1M2022.7 423.7L2025.0 412.3M2024.6 412.8L2028.0 410.6M2027.3 410.7L2030.7 412.0M2030.2 412.2L2033.3 406.6M2032.8 407.1L2036.1 404.8M2035.6 405.2L2038.3 402.9M2037.7 403.1L2040.6 403.8M2039.9 403.8L2042.7 402.7M2042.1 402.8L2045.1 403.3M2044.5 403.0L2047.5 405.0M2047.2 405.1L2048.9 389.9M2048.7 389.3L2051.4 391.5M2050.8 391.4L2053.7 390.6M2053.0 390.5L2055.8 392.3M2055.5 391.8L2056.6 400.9M2056.3 400.8L2059.6 397.6M2059.1 398.1L2062.2 392.9M2061.9 393.5L2064.4 389.0M2063.9 389.1L2066.7 390.9M2066.1 390.6L2068.9 391.7M2068.3 391.5L2071.1 391.7M2070.5 391.8L2073.3 390.4M2072.7 390.3L2075.4 392.5M2074.8 392.4L2077.6 391.0M2077.0 391.1L2079.9 391.1M2079.3 391.4L2081.9 387.0M2081.4 387.5L2084.1 385.0M2083.6 385.5L2086.3 383.4M2085.9 383.3L2088.5 386.6M2087.9 386.3L2090.8 386.4M2090.3 386.7L2092.8 381.5M2092.4 381.6L2095.0 385.7M2094.5 385.5L2097.3 383.8M2096.7 384.1L2099.5 383.1M2098.9 383.1L2101.7 384.6M2101.1 384.1L2103.8 387.3M2103.2 387.0L2106.1 387.1M2105.6 387.4L2108.1 382.8M2107.7 382.9L2110.3 385.5M2109.9 385.5L2112.5 382.1M2112.0 382.1L2114.7 385.3M2114.2 385.2L2116.9 382.7M2116.3 382.7L2119.1 384.4M2118.5 384.4L2121.3 383.5M2120.7 383.7L2124.1 383.1M2123.5 382.9L2126.7 387.2M2126.3 387.3L2129.4 382.0M2128.9 382.5L2132.2 379.4M2131.7 379.4L2134.3 382.3M2133.9 382.3L2136.5 379.5M2136.0 379.6L2138.8 380.7M2138.4 380.2L2140.7 390.2M2140.7 389.5L2140.7 399.8M2140.5 399.1L2142.9 406.5M2142.6 406.0L2145.3 408.1M2144.9 407.5L2147.3 414.0M2146.9 413.7L2149.7 413.4M2149.3 413.1L2151.7 422.1M2151.4 421.4L2153.9 427.2M2153.5 427.1L2156.2 425.1M2155.6 425.2L2158.4 426.6M2157.8 426.3L2160.6 427.6M2160.2 427.1L2162.6 432.7M2162.3 432.0L2164.8 436.8M2164.5 436.2L2167.1 439.9M2166.7 439.3L2169.2 443.4M2169.0 442.8L2169.4 458.1M2169.5 460.8L2169.5 461.3M2169.4 461.3L2172.1 453.8M2171.8 454.4L2174.6 448.6M2174.2 449.0L2177.6 447.8M2177.0 448.3L2180.1 443.4M2179.8 443.3L2182.3 448.6M2182.0 448.0L2184.4 456.0M2184.0 455.6L2186.9 455.8M2186.3 455.6L2188.9 458.4M2188.3 458.1L2191.2 457.9M2190.8 457.6L2193.1 471.0M2193.0 470.3L2195.3 482.6M2195.1 482.0L2198.7 488.3M2198.2 488.0L2201.3 488.2M2200.6 488.1L2203.8 488.3M2203.1 488.2L2206.2 488.4M2205.5 488.3L2208.7 488.5" fill="none" stroke="#0000ff" stroke-width="10"/>
<path d="M304.9 518.3L307.5 488.2M307.1 488.5L310.4 488.5M309.7 488.5L313.0 488.5M312.3 488.5L315.6 488.5M314.9 488.5L318.2 488.5M317.5 488.5L320.8 488.5M320.1 488.5L323.4 488.5M322.7 488.5L326.0 488.5M325.3 488.5L328.6 488.5M327.9 488.5L331.2 488.5M330.5 488.5L333.8 488.5M333.1 488.5L336.4 488.5M335.7 488.5L339.0 488.5M338.3 488.5L341.6 488.5M340.9 488.5L344.2 488.5M343.5 488.5L346.8 488.5M346.1 488.5L349.4 488.5M348.7 488.5L352.0 488.5M351.3 488.5L354.6 488.5M353.9 488.5L357.2 488.5M356.5 488.5L359.8 488.5M359.1 488.5L362.4 488.5M361.7 488.5L365.0 488.5M364.3 488.5L367.6 488.5M366.9 488.5L370.2 488.5M369.5 488.5L372.8 488.5M372.1 488.5L375.4 488.5M374.7 488.5L378.0 488.5M377.3 488.5L380.6 488.5M379.9 488.5L383.2 488.5M382.5 488.5L385.8 488.5M385.1 488.5L388.4 488.5M387.7 488.5L391.0 488.5M390.3 488.5L393.6 488.5M392.9 488.5L396.2 488.5M395.5 488.5L398.8 488.5M398.1 488.5L401.4 488.5M400.7 488.5L404.0 488.5M403.3 488.5L406.6 488.5M405.9 488.5L409.2 488.5M408.5 488.5L411.8 488.5M411.1 488.5L414.4 488.5M413.7 488.5L417.0 488.5M416.3 488.5L419.6 488.5M418.9 488.5L422.2 488.5M421.5 488.5L424.8 488.5M424.1 488.5L427.4 488.5M426.7 488.5L430.0 488.5M429.3 488.5L432.6 488.5M431.9 488.5L435.2 488.5M434.5 488.5L437.8 488.5M437.1 488.5L440.4 488.5M439.7 488.5L443.0 488.5M442.3 488.5L445.6 488.5M444.9 488.5L448.2 488.5M447.5 488.5L450.8 488.5M450.1 488.5L453.4 488.5M452.7 488.5L456.0 488.5M455.3 488.5L458.6 488.5M457.9 488.5L461.2 488.5M460.5 488.5L463.8 488.5M463.1 488.5L466.4 488.5M465.7 488.5L469.0 488.5M468.3 488.5L471.6 488.5M470.9 488.5L474.2 488.5M473.5 488.5L476.8 488.5M476.1 488.5L479.4 488.5M478.7 488.5L482.0 488.5M481.3 488.5L484.6 488.5M483.9 488.5L487.2 488.5M486.5 488.5L489.8 488.5M489.1 488.5L492.4 488.5M491.7 488.5L495.0 488.5M494.3 488.5L497.6 488.5M496.9 488.5L500.2 488.5M499.5 488.5L502.8 488.5M502.1 488.5L505.4 488.5M504.7 488.5L508.0 488.5M507.3 488.5L510.6 488.5M509.9 488.5L513.2 488.5M512.5 488.5L515.8 488.5M515.1 488.5L518.4 488.5M517.7 488.5L521.0 488.5M520.3 488.5L523.6 488.5M522.9 488.5L526.2 488.5M525.5 488.5L528.8 488.5M528.1 488.5L531.4 488.5M530.7 488.5L534.0 488.5M533.3 488.5L536.6 488.5M535.9 488.5L539.2 488.5M538.5 488.5L541.8 488.5M541.1 488.5L544.4 488.5M543.7 488.5L547.0 488.5M546.3 488.5L549.6 488.5M548.9 488.5L552.2 488.5M551.5 488.5L554.8 488.5M554.1 488.5L557.4 488.5M556.7 488.5L560.0 488.5M559.3 488.5L562.6 488.5M561.9 488.5L565.2 488.5M564.5 488.5L567.8 488.5M567.1 488.5L570.4 488.5M569.7 488.5L573.0 488.5M572.3 488.5L575.6 488.5M574.9 488.5L578.2 488.5M577.5 488.5L580.8 488.5M580.1 488.5L583.4 488.5M582.7 488.5L586.0 488.5M585.3 488.5L588.6 488.5M587.9 488.5L591.2 488.5M590.5 488.5L593.8 488.5M593.1 488.5L596.4 488.5M595.7 488.5L599.0 488.5M598.3 488.5L601.6 488.5M600.9 488.5L604.2 488.5M603.5 488.5L606.8 488.5M606.1 488.5L609.4 488.5M608.7 488.5L612.0 488.5M611.3 488.5L614.6 488.5M613.9 488.5L617.2 488.5M616.5 488.5L619.8 488.5M619.1 488.5L622.4 488.5M621.7 488.5L625.0 488.5M624.3 488.5L627.6 488.5M626.9 488.5L630.2 488.5M629.5 488.5L632.8 488.5M632.1 488.5L635.4 488.5M634.7 488.5L638.0 488.5M637.3 488.5L640.6 488.5M639.9 488.5L643.2 488.5M642.5 488.5L645.8 488.5M645.1 488.5L648.4 488.5M647.7 488.5L651.0 488.5M650.3 488.5L653.6 488.5M652.9 488.5L656.2 488.5M655.5 488.5L658.8 488.5M658.1 488.5L661.4 488.5M660.7 488.5L664.0 488.5M663.3 488.5L666.6 488.5M665.9 488.5L669.2 488.5M668.5 488.5L671.8 488.5M671.1 488.5L674.4 488.5M673.7 488.5L677.0 488.5M676.3 488.5L679.6 488.5M678.9 488.5L682.2 488.5M681.5 488.5L684.8 488.5M684.1 488.5L687.4 488.5M686.7 488.5L690.0 488.5M689.3 488.5L692.6 488.5M691.9 488.5L695.2 488.5M694.5 488.5L697.8 488.5M697.1 488.5L700.4 488.5M699.7 488.5L703.0 488.5M702.3 488.5L705.6 488.5M704.9 488.5L708.2 488.5M707.5 488.5L710.8 488.5M710.1 488.5L713.4 488.5M712.7 488.5L716.0 488.5M715.3 488.5L718.6 488.5M717.9 488.5L721.2 488.5M720.5 488.5L723.8 488.5M723.1 488.5L726.4 488.5M725.7 488.5L729.0 488.5M728.3 488.5L731.6 488.5M730.9 488.5L734.2 488.5M733.5 488.5L736.8 488.5M736.1 488.5L739.4 488.5M738.7 488.5L742.0 488.5M741.3 488.5L744.6 488.5M743.9 488.5L747.2 488.5M746.5 488.5L749.8 488.5M749.1 488.5L752.4 488.5M751.7 488.5L755.0 488.5M754.3 488.5L757.6 488.5M756.9 488.5L760.2 488.5M759.5 488.5L762.8 488.5M762.1 488.5L765.4 488.5M764.7 488.5L768.0 488.5M767.3 488.5L770.6 488.5M769.9 488.5L773.2 488.5M772.5 488.5L775.8 488.5M775.1 488.5L778.4 488.5M777.7 488.5L781.0 488.5M780.3 488.5L783.6 488.5M782.9 488.5L786.2 488.5M785.5 488.5L788.8 488.5M788.1 488.5L791.4 488.5M790.7 488.5L794.0 488.5M793.3 488.5L796.6 488.5M795.9 488.5L799.2 488.5M798.5 488.5L801.8 488.5M801.1 488.5L804.4 488.5M803.7 488.5L807.0 488.5M806.3 488.5L809.6 488.5M808.9 488.5L812.2 488.5M811.5 488.5L814.8 488.5M814.1 488.5L817.4 488.5M816.7 488.5L820.0 488.5M819.3 488.5L822.6 488.5M821.9 488.5L825.2 488.5M824.5 488.5L827.8 488.5M827.1 488.5L830.4 488.5M829.7 488.5L833.0 488.5M832.3 488.5L835.6 488.5M834.9 488.5L838.2 488.5M837.5 488.5L840.8 488.5M840.1 488.5L843.4 488.5M842.7 488.5L846.0 488.5M845.3 488.5L848.6 488.5M847.9 488.5L851.2 488.5M850.5 488.5L853.8 488.5M853.1 488.5L856.4 488.5M855.7 488.5L859.0 488.5M858.3 488.5L861.6 488.5M860.9 488.5L864.2 488.5M863.5 488.5L866.8 488.5M866.1 488.5L869.4 488.5M868.7 488.5L872.0 488.5M871.3 488.5L874.6 488.5M873.9 488.5L877.2 488.5M876.5 488.5L879.8 488.5M879.1 488.5L882.4 488.5M881.7 488.5L885.0 488.5M884.3 488.5L887.6 488.5M886.9 488.5L890.2 488.5M889.5 488.5L892.8 488.5M892.1 488.5L895.4 488.5M894.7 488.5L898.0 488.5M897.3 488.5L900.6 488.5M899.9 488.5L903.2 488.5M902.5 488.5L905.8 488.5M905.1 488.5L908.4 488.5M907.7 488.5L911.0 488.5M910.3 488.5L913.6 488.5M912.9 488.5L916.2 488.5M915.5 488.5L918.8 488.5M918.1 488.5L921.4 488.5M920.7 488.5L924.0 488.5M923.3 488.5L926.6 488.5M925.9 488.5L929.2 488.5M928.5 488.5L931.8 488.5M931.1 488.5L934.4 488.5M933.7 488.5L937.0 488.5M936.3 488.5L939.6 488.5M938.9 488.5L942.2 488.5M941.5 488.5L944.8 488.5M944.1 488.5L947.4 488.5M946.7 488.5L950.0 488.5M949.3 488.5L952.6 488.5M951.9 488.5L955.2 488.5M954.5 488.5L957.8 488.5M957.1 488.5L960.4 488.5M959.7 488.5L963.0 488.5M962.3 488.5L965.6 488.5M964.9 488.5L968.2 488.5M967.5 488.5L970.8 488.5M970.1 488.5L973.4 488.5M972.7 488.5L976.0 488.5M975.3 488.5L978.6 488.5M977.9 488.5L981.2 488.5M980.5 488.5L983.8 488.5M983.1 488.5L986.4 488.5M985.7 488.5L989.0 488.5M988.3 488.5L991.6 488.5M990.9 488.5L994.2 488.5M993.5 488.5L996.8 488.5M996.1 488.5L999.4 488.5M998.7 488.5L1002.0 488.5M1001.3 488.5L1004.6 488.5M1003.9 488.5L1007.2 488.5M1006.5 488.5L1009.8 488.5M1009.1 488.5L1012.4 488.5M1011.7 488.5L1014.4 488.6M1014.0 488.2L1015.1 514.0M1015.1 513.3L1016.2 535.9M1016.2 535.2L1017.3 557.7M1017.3 557.0L1018.4 579.5M1018.4 578.8L1019.5 592.6M1019.4 591.9L1021.8 599.2M1021.5 598.5L1024.0 605.7M1023.8 605.0L1027.2 623.2M1027.0 622.5L1029.4 633.0M1029.1 632.4L1032.1 636.2M1031.6 635.7L1034.6 639.5M1034.2 638.9L1037.2 642.8M1036.7 642.2L1039.6 645.2M1039.2 644.7L1042.1 647.6M1041.6 647.2L1044.6 650.1M1044.1 649.6L1047.0 652.6M1046.5 652.1L1049.8 654.4M1049.2 654.0L1052.5 656.3M1051.9 655.9L1055.2 658.2M1054.7 657.8L1058.0 660.2M1057.4 659.8L1060.9 661.2M1060.3 660.9L1063.8 662.3M1063.2 662.0L1066.7 663.4M1066.2 663.0L1069.6 666.0M1069.1 665.5L1072.5 668.6M1072.0 668.1L1075.4 671.1M1075.0 670.6L1077.9 675.2M1077.5 674.6L1080.4 679.2M1080.1 678.6L1083.0 683.2M1082.6 682.6L1085.1 687.9M1084.8 687.3L1087.3 692.7M1087.0 692.0L1089.5 697.4M1089.3 697.4L1089.3 693.7M1089.3 693.7L1092.2 704.2M1092.0 703.5L1094.9 714.0M1094.7 713.3L1097.1 724.9M1096.9 724.2L1099.2 735.8M1099.1 735.2L1101.4 744.6M1101.3 743.9L1103.6 753.3M1103.4 752.7L1105.9 756.9M1105.5 756.3L1108.1 760.5M1107.7 759.9L1110.3 764.2M1110.0 763.6L1112.9 771.9M1112.7 771.2L1115.7 779.5M1115.4 778.9L1118.5 783.8M1118.1 783.2L1121.2 788.2M1120.8 787.7L1124.2 791.1M1123.7 790.6L1127.1 794.0M1126.6 793.5L1130.0 796.9M1129.5 796.4L1132.9 799.8M1132.4 799.3L1135.8 802.7M1135.3 802.2L1138.7 805.6M1138.3 805.1L1141.6 809.3M1141.2 808.7L1144.5 812.9M1144.1 812.4L1147.4 816.6M1147.0 816.0L1150.3 819.8M1149.9 819.3L1153.3 823.1M1152.8 822.6L1156.2 826.4M1155.7 825.9L1158.4 828.5M1157.9 828.0L1160.6 830.7M1160.1 830.2L1162.7 832.9M1162.1 832.7L1165.5 832.7M1164.8 832.7L1168.1 832.7M1167.4 832.7L1170.7 832.7M1170.0 832.7L1173.3 832.7M1172.6 832.7L1175.9 832.7M1175.2 832.6L1178.1 833.1M1177.4 833.0L1180.3 833.4M1179.6 833.3L1182.5 833.8M1181.9 833.5L1185.1 836.7M1184.6 836.2L1187.8 839.5M1187.3 839.1L1190.1 840.5M1189.5 840.1L1192.3 841.6M1191.7 841.2L1194.5 842.6M1194.0 842.8L1197.0 836.7M1196.7 837.3L1199.8 831.3M1199.6 831.9L1201.8 811.6M1201.7 812.3L1204.1 802.8M1203.9 803.5L1206.2 794.1M1206.1 794.8L1208.4 786.5M1208.2 787.1L1210.6 778.8M1210.4 779.5L1213.4 770.1M1213.1 770.8L1216.1 761.4M1215.7 762.0L1218.4 759.3M1217.9 759.8L1220.6 757.1M1220.1 757.6L1222.8 754.9M1222.5 755.5L1224.8 745.0M1224.6 745.7L1227.0 735.2M1226.8 735.8L1229.2 726.4M1229.0 727.1L1231.4 717.7M1231.2 718.4L1233.5 691.5M1233.4 692.2L1235.7 669.7M1235.6 670.4L1235.6 666.2M1235.6 666.9L1237.9 644.3M1237.7 645.0L1240.8 635.6M1240.5 636.3L1243.2 629.1M1242.9 629.7L1245.6 622.5M1245.4 623.2L1247.7 615.2M1247.5 615.9L1249.9 607.9M1249.7 608.6L1252.1 600.7M1251.9 601.3L1254.3 589.7M1254.1 590.4L1256.4 578.8M1256.3 579.5L1259.7 557.0M1259.6 557.7L1263.0 535.2M1262.9 535.8L1265.6 513.3M1265.5 514.0L1266.9 488.2M1266.5 488.6L1270.3 488.5M1269.7 488.5L1272.9 488.5M1272.2 488.5L1275.5 488.5M1274.8 488.5L1278.1 488.5M1277.4 488.5L1280.7 488.5M1280.0 488.5L1283.3 488.5M1282.6 488.5L1285.9 488.5M1285.2 488.5L1288.5 488.5M1287.8 488.5L1291.1 488.5M1290.4 488.5L1293.7 488.5M1293.0 488.5L1296.3 488.5M1295.6 488.5L1298.9 488.5M1298.2 488.5L1301.5 488.5M1300.8 488.5L1304.1 488.5M1303.4 488.5L1306.7 488.5M1306.0 488.5L1309.3 488.5M1308.6 488.5L1311.8 488.5M1311.1 488.5L1314.4 488.5M1313.7 488.5L1317.0 488.5M1316.3 488.5L1319.6 488.5M1318.9 488.5L1322.2 488.5M1321.5 488.5L1324.8 488.5M1324.1 488.5L1327.4 488.5M1326.7 488.5L1330.0 488.5M1329.3 488.5L1332.6 488.5M1331.9 488.5L1335.2 488.5M1334.5 488.5L1337.8 488.5M1337.1 488.5L1340.4 488.5M1339.7 488.5L1343.0 488.5M1342.3 488.5L1345.6 488.5M1344.9 488.5L1348.2 488.5M1347.5 488.5L1350.7 488.5M1350.0 488.5L1353.3 488.5M1352.6 488.5L1355.9 488.5M1355.2 488.5L1358.5 488.5M1357.8 488.5L1361.1 488.5M1360.4 488.5L1363.7 488.5M1363.0 488.5L1366.3 488.5M1365.6 488.5L1368.9 488.5M1368.2 488.5L1371.5 488.5M1370.8 488.5L1374.1 488.5M1373.4 488.5L1376.7 488.5M1376.0 488.5L1379.3 488.5M1378.6 488.5L1381.9 488.5M1381.2 488.5L1384.5 488.5M1383.8 488.5L1387.1 488.5M1386.4 488.5L1389.7 488.5M1389.0 488.5L1392.2 488.5M1391.5 488.5L1394.8 488.5M1394.1 488.5L1397.4 488.5M1396.7 488.5L1400.0 488.5M1399.3 488.5L1402.6 488.5M1401.9 488.5L1405.2 488.5M1404.5 488.5L1407.8 488.5M1407.1 488.5L1410.4 488.5M1409.7 488.5L1413.0 488.5M1412.3 488.5L1415.6 488.5M1414.9 488.5L1418.2 488.5M1417.5 488.5L1420.8 488.5M1420.1 488.5L1423.4 488.5M1422.7 488.5L1426.0 488.5M1425.3 488.5L1428.6 488.5M1427.9 488.5L1431.1 488.5M1430.4 488.5L1433.7 488.5M1433.0 488.5L1436.3 488.5M1435.6 488.5L1438.9 488.5M1438.2 488.5L1441.5 488.5M1440.8 488.5L1444.1 488.5M1443.4 488.5L1446.7 488.5M1446.0 488.5L1449.3 488.5M1448.6 488.5L1451.9 488.5M1451.2 488.5L1454.5 488.5M1453.8 488.5L1457.1 488.5M1456.4 488.5L1459.7 488.5M1459.0 488.5L1462.3 488.5M1461.6 488.5L1464.9 488.5M1464.2 488.5L1467.5 488.5M1466.8 488.5L1470.0 488.5M1469.3 488.5L1472.6 488.5M1471.9 488.5L1475.2 488.5M1474.5 488.5L1477.8 488.5M1477.1 488.5L1480.4 488.5M1479.7 488.5L1483.0 488.5M1482.3 488.5L1485.6 488.5M1484.9 488.5L1488.2 488.5M1487.5 488.5L1490.8 488.5M1490.1 488.5L1493.4 488.5M1492.7 488.5L1496.0 488.5M1495.3 488.5L1498.6 488.5M1497.9 488.5L1501.2 488.5M1500.5 488.5L1503.8 488.5M1503.1 488.5L1506.4 488.5M1505.7 488.5L1509.0 488.5M1508.3 488.5L1511.5 488.5M1510.8 488.5L1514.1 488.5M1513.4 488.5L1516.7 488.5M1516.0 488.5L1519.3 488.5M1518.6 488.5L1521.9 488.5M1521.2 488.5L1524.5 488.5M1523.8 488.5L1527.1 488.5M1526.4 488.5L1529.7 488.5M1529.0 488.5L1532.3 488.5M1531.6 488.5L1534.9 488.5M1534.2 488.5L1537.5 488.5M1536.8 488.5L1540.1 488.5M1539.4 488.5L1542.7 488.5M1542.0 488.5L1545.3 488.5M1544.6 488.5L1547.9 488.5M1547.2 488.5L1550.4 488.5M1549.7 488.5L1553.0 488.5M1552.3 488.5L1555.6 488.5M1554.9 488.5L1558.2 488.5M1557.5 488.5L1560.8 488.5M1560.1 488.5L1563.4 488.5M1562.7 488.5L1566.0 488.5M1565.3 488.5L1568.6 488.5M1567.9 488.5L1571.2 488.5M1570.5 488.5L1573.8 488.5M1573.1 488.5L1576.4 488.5M1575.7 488.5L1579.0 488.5M1578.3 488.5L1581.6 488.5M1580.9 488.5L1584.2 488.5M1583.5 488.5L1586.8 488.5M1586.1 488.5L1589.3 488.5M1588.7 488.5L1591.9 488.5M1591.2 488.5L1594.5 488.5M1593.8 488.5L1597.1 488.5M1596.4 488.5L1599.7 488.5M1599.0 488.5L1602.3 488.5M1601.6 488.5L1604.9 488.5M1604.2 488.5L1607.5 488.5M1606.8 488.5L1610.1 488.5M1609.4 488.5L1612.7 488.5M1612.0 488.5L1615.3 488.5M1614.6 488.5L1617.9 488.5M1617.2 488.5L1620.5 488.5M1619.8 488.5L1623.1 488.5M1622.4 488.5L1625.7 488.5M1625.0 488.5L1628.3 488.5M1627.6 488.5L1630.8 488.5M1630.1 488.5L1633.4 488.5M1632.7 488.5L1636.0 488.5M1635.3 488.5L1638.6 488.5M1637.9 488.5L1641.2 488.5M1640.5 488.5L1643.8 488.5M1643.1 488.5L1646.4 488.5M1645.7 488.5L1649.0 488.5M1648.3 488.5L1651.6 488.5M1650.9 488.5L1654.2 488.5M1653.5 488.5L1656.8 488.5M1656.1 488.5L1659.4 488.5M1658.7 488.5L1662.0 488.5M1661.3 488.5L1664.6 488.5M1663.9 488.5L1667.2 488.5M1666.5 488.5L1669.7 488.5M1669.0 488.5L1672.3 488.5M1671.6 488.5L1674.9 488.5M1674.2 488.5L1677.5 488.5M1676.8 488.5L1680.1 488.5M1679.4 488.5L1682.7 488.5M1682.0 488.5L1685.3 488.5M1684.6 488.5L1687.9 488.5M1687.2 488.5L1690.5 488.5M1689.8 488.5L1693.1 488.5M1692.4 488.5L1695.7 488.5M1695.0 488.5L1698.3 488.5M1697.6 488.5L1700.9 488.5M1700.2 488.5L1703.5 488.5M1702.8 488.5L1706.1 488.5M1705.4 488.5L1708.7 488.5M1708.0 488.5L1711.2 488.5M1710.5 488.5L1713.8 488.5M1713.1 488.5L1716.4 488.5M1715.7 488.5L1719.0 488.5M1718.3 488.5L1721.6 488.5M1720.9 488.5L1724.2 488.5M1723.5 488.5L1726.8 488.5M1726.1 488.5L1729.4 488.5M1728.7 488.5L1732.0 488.5M1731.3 488.5L1734.6 488.5M1733.9 488.5L1737.2 488.5M1736.5 488.5L1739.8 488.5M1739.1 488.5L1742.4 488.5M1741.7 488.5L1745.0 488.5M1744.3 488.5L1747.6 488.5M1746.9 488.5L1750.1 488.5M1749.4 488.5L1752.7 488.5M1752.0 488.5L1755.3 488.5M1754.6 488.5L1757.9 488.5M1757.2 488.5L1760.5 488.5M1759.8 488.5L1763.1 488.5M1762.4 488.5L1765.7 488.5M1765.0 488.5L1768.3 488.5M1767.6 488.5L1770.9 488.5M1770.2 488.5L1773.5 488.5M1772.8 488.5L1776.1 488.5M1775.4 488.5L1778.7 488.5M1778.0 488.5L1781.3 488.5M1780.6 488.5L1783.9 488.5M1783.2 488.5L1786.5 488.5M1785.8 488.5L1789.0 488.5M1788.3 488.5L1791.6 488.5M1790.9 488.5L1794.2 488.5M1793.5 488.5L1796.8 488.5M1796.1 488.5L1799.4 488.5M1798.7 488.5L1802.0 488.5M1801.3 488.5L1804.6 488.5M1803.9 488.5L1807.2 488.5M1806.5 488.5L1809.8 488.5M1809.1 488.5L1812.4 488.5M1811.7 488.5L1815.0 488.5M1814.3 488.5L1817.6 488.5M1816.9 488.5L1820.2 488.5M1819.5 488.5L1822.8 488.5M1822.1 488.5L1825.4 488.5M1824.7 488.5L1828.0 488.5M1827.3 488.5L1830.5 488.5M1829.8 488.5L1833.1 488.5M1832.4 488.5L1835.7 488.5M1835.0 488.5L1838.3 488.5M1837.6 488.5L1840.9 488.5M1840.2 488.5L1843.5 488.5M1842.8 488.5L1846.1 488.5M1845.4 488.5L1848.7 488.5M1848.0 488.5L1851.3 488.5M1850.6 488.5L1853.9 488.5M1853.2 488.5L1856.5 488.5M1855.8 488.5L1859.1 488.5M1858.4 488.5L1861.7 488.5M1861.0 488.5L1864.3 488.5M1863.6 488.5L1866.9 488.5M1866.2 488.5L1869.4 488.5M1868.7 488.5L1872.0 488.5M1871.3 488.5L1874.6 488.5M1873.9 488.5L1877.2 488.5M1876.5 488.5L1879.8 488.5M1879.1 488.5L1882.4 488.5M1881.7 488.5L1885.0 488.5M1884.3 488.5L1887.6 488.5M1886.9 488.5L1890.2 488.5M1889.5 488.5L1892.8 488.5M1892.1 488.5L1895.4 488.5M1894.7 488.5L1898.0 488.5M1897.3 488.5L1900.6 488.5M1899.9 488.5L1903.2 488.5M1902.5 488.5L1905.8 488.5M1905.1 488.5L1908.3 488.5" fill="none" stroke="#0000ff" stroke-width="13"/>
<path d="M1907.7 488.5L1911.4 488.4M1910.9 488.0L1914.1 504.3M1914.0 503.7L1916.7 513.4M1916.5 512.7L1919.2 522.2M1919.0 521.6L1922.0 530.3M1921.8 529.6L1924.9 537.4M1924.7 536.7L1927.6 546.6M1927.4 545.9L1930.4 553.0M1930.1 552.3L1932.5 559.2M1932.3 558.6L1934.7 565.6M1934.4 564.9L1936.9 569.9M1936.6 569.2L1940.0 577.1M1939.6 576.5L1943.1 581.6M1942.7 581.0L1945.7 584.6M1945.2 584.2L1948.4 586.2M1947.9 585.7L1951.0 589.2M1950.4 588.8L1953.8 590.6M1953.2 590.5L1956.6 590.5M1956.0 590.3L1959.3 592.7M1958.9 592.1L1961.4 597.3M1961.1 596.7L1963.5 603.3M1963.2 602.7L1965.8 607.3M1965.3 606.7L1968.0 609.3M1967.6 608.7L1970.1 614.7M1969.7 614.1L1972.4 616.5M1972.0 615.9L1974.5 621.5M1974.1 620.9L1976.7 623.8M1976.3 623.2L1978.9 627.1M1978.6 626.5L1981.0 633.1M1980.6 632.5L1983.3 634.9M1982.9 634.3L1985.4 638.6M1985.1 638.0L1987.7 644.8M1987.4 644.1L1990.2 648.6M1989.7 648.2L1993.0 649.7M1992.5 649.2L1995.6 654.3M1995.2 653.8L1998.5 655.8M1998.0 655.4L2001.1 659.0M2000.6 658.5L2003.9 661.0M2003.5 660.5L2006.5 666.3M2006.1 665.7L2009.4 668.8M2008.9 668.3L2012.0 672.9M2011.6 672.3L2014.9 677.0M2014.5 676.5L2017.9 679.8M2017.5 679.3L2020.8 684.4M2020.4 683.8L2023.0 687.5M2022.6 686.9L2025.1 691.1M2024.7 690.5L2027.3 694.5M2027.0 693.9L2029.4 701.7M2029.2 701.1L2031.6 709.1M2031.3 708.4L2033.8 712.9M2033.6 712.3L2036.0 720.2M2035.5 719.7L2039.1 721.3M2038.5 720.9L2042.0 723.5M2041.5 723.0L2044.8 727.0M2044.3 726.6L2047.8 729.0M2047.2 728.6L2050.7 731.5M2050.2 731.0L2053.5 734.9M2053.1 734.3L2056.4 739.1M2055.9 738.6L2059.4 741.0M2059.0 740.5L2062.2 747.1M2061.7 746.8L2065.3 747.3M2064.8 747.0L2068.1 752.4M2067.6 751.8L2071.0 755.5M2070.5 755.0L2073.3 756.9M2072.8 756.4L2075.3 762.7M2074.9 762.1L2077.6 765.2M2077.1 764.6L2080.5 769.0M2079.9 768.5L2083.5 770.7M2082.9 770.2L2086.3 774.2M2085.9 773.6L2089.2 777.8M2088.8 777.2L2092.1 783.1M2091.6 782.7L2095.1 784.2M2094.6 783.8L2097.9 788.8M2097.5 788.2L2100.9 792.1M2100.4 791.6L2103.8 795.0M2103.2 794.9L2106.0 793.4M2105.4 793.5L2108.2 794.0M2107.6 793.9L2110.4 794.9M2109.8 794.6L2112.6 795.9M2112.0 796.0L2114.8 794.2M2114.2 794.2L2116.9 796.7M2116.5 796.1L2120.1 808.1M2119.8 807.4L2123.3 812.9M2122.9 812.4L2126.6 815.4M2126.1 814.9L2129.6 821.0M2129.1 820.6L2132.9 821.7M2132.3 821.4L2136.0 824.0M2135.4 823.6L2139.2 826.3M2138.7 825.8L2142.2 831.1M2141.7 830.6L2145.4 833.5M2145.0 833.0L2148.5 838.2M2148.0 837.7L2151.7 840.3M2151.2 840.3L2154.9 837.7M2154.3 838.1L2158.1 836.2M2157.4 836.5L2160.4 835.1M2159.8 835.4L2162.8 834.0M2162.2 834.0L2165.1 836.1M2164.6 835.6L2167.4 839.2M2167.0 838.6L2169.7 844.3M2169.3 843.8L2172.2 846.4M2171.7 845.9L2175.1 851.3M2174.8 850.7L2178.0 858.9M2177.8 858.9L2180.3 851.1M2180.1 851.8L2182.7 844.9M2182.5 845.6L2186.1 827.9M2186.0 828.6L2189.3 817.9M2189.1 818.5L2191.7 812.2M2191.5 812.9L2194.0 804.9M2193.8 805.6L2196.4 798.6M2196.2 799.2L2198.7 791.3M2198.5 792.0L2201.2 786.5M2200.9 787.1L2203.4 777.1M2203.3 777.8L2205.4 770.4M2205.2 771.1L2207.4 762.6" fill="none" stroke="#0000ff" stroke-width="13"/>
<polyline points="304.0,488.6 1040.0,488.6 1042.4,488.3 1052.2,489.4 1057.7,494.9 1068.6,499.3 1151.6,499.3 1155.9,505.8 1162.5,508.0 1196.3,508.0 1199.6,501.4 1200.7,489.4 1202.9,487.9 1210.0,488.6 1896.0,488.6 1899.0,488.4 1908.8,492.8 1919.7,503.7 1930.7,516.8 1937.2,532.1 1941.6,547.3 1948.1,562.6 1954.7,570.3 1960.1,576.8 2044.6,576.8 2050.0,581.8 2055.5,589.5 2064.2,592.8 2077.3,594.9 2091.5,599.3 2097.0,610.2 2103.5,612.4 2109.0,625.5 2118.8,626.6 2123.2,636.4 2127.6,644.1 2133.0,647.3 2136.3,658.3 2138.5,675.7 2140.7,691.0 2143.9,698.6 2151.6,699.3 2207.7,699.3" fill="none" stroke="#ff00ff" stroke-width="5.2" stroke-linejoin="round"/>
<defs><filter id="crisp" x="0" y="0" width="100%" height="100%" filterUnits="userSpaceOnUse" color-interpolation-filters="sRGB"><feComponentTransfer><feFuncA type="discrete" tableValues="0 0 1 1 1"/></feComponentTransfer></filter></defs>
<g fill="#000" shape-rendering="auto" text-rendering="geometricPrecision" filter="url(#crisp)">
<text transform="translate(304.3,87.0) scale(1,1.065)" font-size="56.85">Jää ja lumi,81 055 Kirkkojärvi</text>
<text transform="translate(241.0,125.9) scale(1,1.065)" font-size="56.6" text-anchor="end">40</text>
<text transform="translate(241.0,219.4) scale(1,1.065)" font-size="56.6" text-anchor="end">30</text>
<text transform="translate(241.0,312.8) scale(1,1.065)" font-size="56.6" text-anchor="end">20</text>
<text transform="translate(241.0,406.2) scale(1,1.065)" font-size="56.6" text-anchor="end">10</text>
<text transform="translate(224.5,499.7) scale(1,1.065)" font-size="56.6" text-anchor="end">0</text>
<text transform="translate(244.0,593.2) scale(1,1.065)" font-size="56.6" text-anchor="end">-10</text>
<text transform="translate(244.0,686.6) scale(1,1.065)" font-size="56.6" text-anchor="end">-20</text>
<text transform="translate(244.0,780.1) scale(1,1.065)" font-size="56.6" text-anchor="end">-30</text>
<text transform="translate(244.0,873.5) scale(1,1.065)" font-size="56.6" text-anchor="end">-40</text>
<text transform="translate(244.0,967.0) scale(1,1.065)" font-size="56.6" text-anchor="end">-50</text>
<text transform="translate(244.0,1060.4) scale(1,1.065)" font-size="56.6" text-anchor="end">-60</text>
<text transform="translate(99.7,981.0) rotate(-90) scale(1,1.065)" font-size="50">Jää ja lumi / Ice and snow</text>
<text transform="translate(99.7,354.5) rotate(-90) scale(1,1.065)" font-size="50">cm</text>
<text transform="translate(317.0,1120.5) scale(1,1.065)" font-size="35.4">IV</text>
<text transform="translate(405.5,1120.5) scale(1,1.065)" font-size="35.4">V</text>
<text transform="translate(477.3,1120.5) scale(1,1.065)" font-size="35.4">VI</text>
<text transform="translate(555.0,1120.5) scale(1,1.065)" font-size="35.4">VII</text>
<text transform="translate(624.8,1120.5) scale(1,1.065)" font-size="35.4">VIII</text>
<text transform="translate(715.1,1120.5) scale(1,1.065)" font-size="35.4">IX</text>
<text transform="translate(803.3,1120.5) scale(1,1.065)" font-size="35.4">X</text>
<text transform="translate(874.0,1120.5) scale(1,1.065)" font-size="35.4">XI</text>
<text transform="translate(951.3,1120.5) scale(1,1.065)" font-size="35.4">XII</text>
<text transform="translate(1041.6,1120.5) scale(1,1.065)" font-size="35.4">I</text>
<text transform="translate(1112.3,1120.5) scale(1,1.065)" font-size="35.4">II</text>
<text transform="translate(1184.8,1120.5) scale(1,1.065)" font-size="35.4">III</text>
<text transform="translate(1265.5,1120.5) scale(1,1.065)" font-size="35.4">IV</text>
<text transform="translate(1353.0,1120.5) scale(1,1.065)" font-size="35.4">V</text>
<text transform="translate(1423.6,1120.5) scale(1,1.065)" font-size="35.4">VI</text>
<text transform="translate(1501.6,1120.5) scale(1,1.065)" font-size="35.4">VII</text>
<text transform="translate(1573.6,1120.5) scale(1,1.065)" font-size="35.4">VIII</text>
<text transform="translate(1662.3,1120.5) scale(1,1.065)" font-size="35.4">IX</text>
<text transform="translate(1750.8,1120.5) scale(1,1.065)" font-size="35.4">X</text>
<text transform="translate(1820.9,1120.5) scale(1,1.065)" font-size="35.4">XI</text>
<text transform="translate(1898.9,1120.5) scale(1,1.065)" font-size="35.4">XII</text>
<text transform="translate(1988.9,1120.5) scale(1,1.065)" font-size="35.4">I</text>
<text transform="translate(2059.0,1120.5) scale(1,1.065)" font-size="35.4">II</text>
<text transform="translate(2132.4,1120.5) scale(1,1.065)" font-size="35.4">III</text>
<text transform="translate(307.3,1165.0) scale(1,1.065)" font-size="35.4">2025</text>
<text transform="translate(1020.3,1165.0) scale(1,1.065)" font-size="35.4">2026</text>
<text transform="translate(1968.6,1165.0) scale(1,1.065)" font-size="35.4">2027</text>
<text transform="translate(2223.3,1140.1) scale(1,1.065)" font-size="35.4">04-Apr-2026 02:48 WSFS-P</text>
<text transform="translate(2223.3,84.0) scale(1,1.065)" font-size="35.4">Lumen syvyys jäällä</text>
<text transform="translate(2223.3,127.2) scale(1,1.065)" font-size="35.4">Simuloitu ja keskiennuste</text>
<text transform="translate(2223.3,200.5) scale(1,1.065)" font-size="35.4">Jään paksuus</text>
<text transform="translate(2223.3,244.3) scale(1,1.065)" font-size="35.4">Simuloitu ja keskiennuste</text>
<text transform="translate(2223.3,317.8) scale(1,1.065)" font-size="35.4">Ennusteen vaihteluväli</text>
<text transform="translate(2223.3,392.2) scale(1,1.065)" font-size="35.4">5-95% vaihteluväli</text>
<text transform="translate(2223.3,465.0) scale(1,1.065)" font-size="35.4">25-75% vaihteluväli</text>
<text transform="translate(2223.3,539.2) scale(1,1.065)" font-size="35.4">Kohvajää</text>
<text transform="translate(2223.3,612.8) scale(1,1.065)" font-size="35.4">Ennusteen alku</text>
</g>
<line x1="2223" y1="144" x2="2541.5" y2="144" stroke="#0000ff" stroke-width="10" stroke-dasharray="15 2.64" stroke-dashoffset="7"/>
<line x1="2223" y1="260.5" x2="2541.5" y2="260.5" stroke="#0000ff" stroke-width="13"/>
<line x1="2223" y1="334.6" x2="2541.5" y2="334.6" stroke="#ffff00" stroke-width="13"/>
<line x1="2223" y1="408.6" x2="2541.5" y2="408.6" stroke="#ff0000" stroke-width="13"/>
<line x1="2223" y1="482" x2="2541.5" y2="482" stroke="#00ff00" stroke-width="13"/>
<line x1="2223" y1="556.1" x2="2541.5" y2="556.1" stroke="#ff00ff" stroke-width="5.6"/>
<line x1="2223" y1="630" x2="2541.5" y2="630" stroke="#00ffff" stroke-width="9.6" stroke-dasharray="14.4 13.9"/>
</svg>
</body></html>
